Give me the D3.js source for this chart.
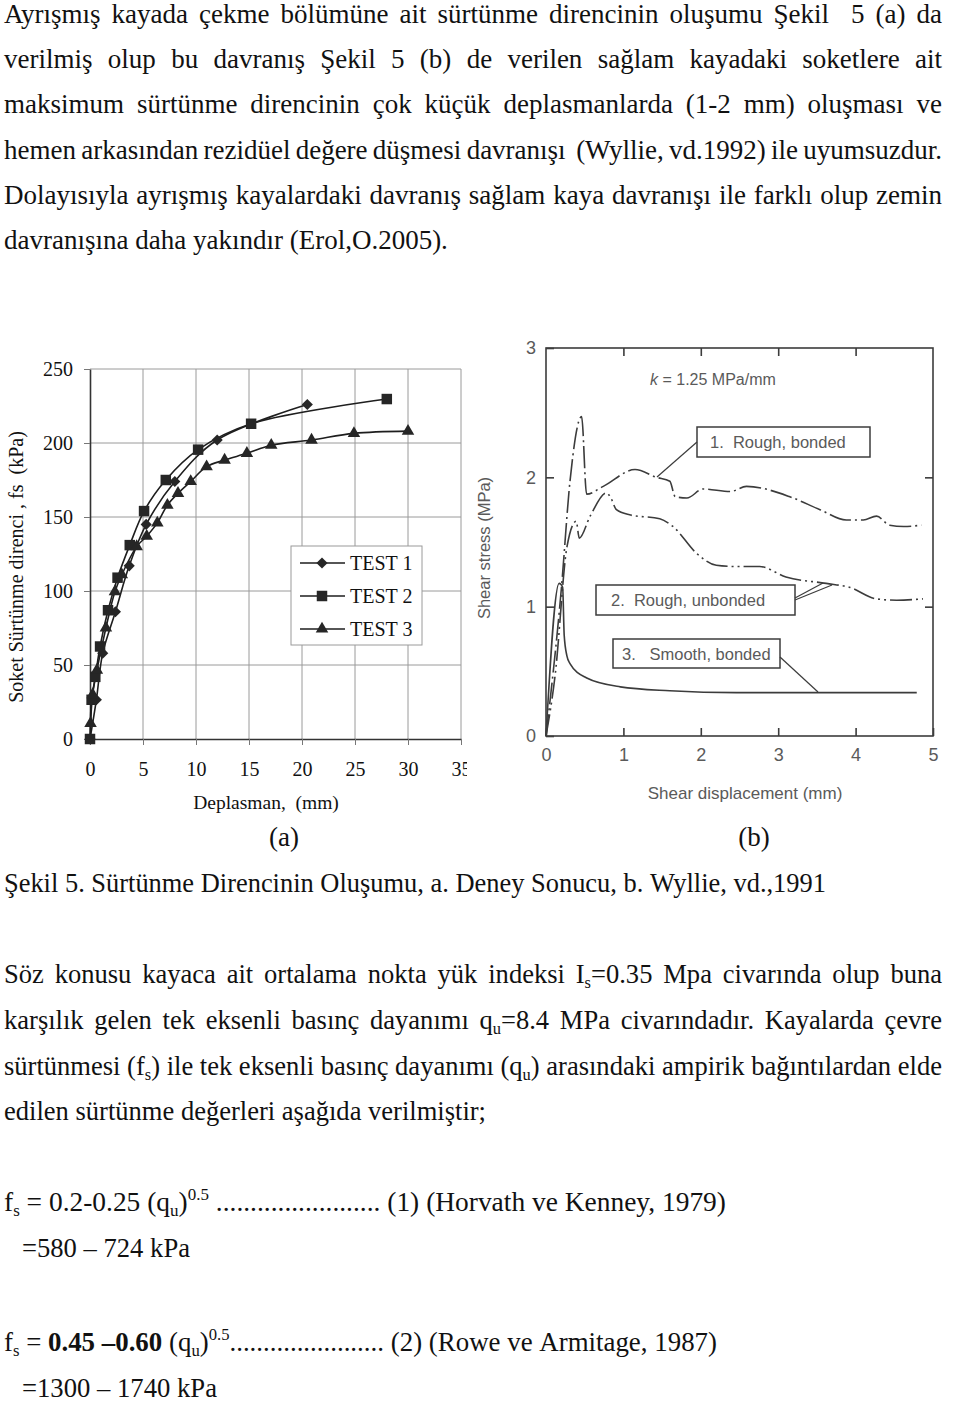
<!DOCTYPE html>
<html><head><meta charset="utf-8">
<script src="https://cdn.jsdelivr.net/npm/d3@7"></script>
<style>html,body{margin:0;padding:0;background:#fff;} svg{display:block;}</style>
</head><body>
<svg id="page" width="960" height="1402"></svg>
<script>
// ---------------- DATA ----------------
// Chart (a): soket sürtünme direnci vs deplasman
const xTicksA = [0, 5, 10, 15, 20, 25, 30, 35];
const yTicksA = [0, 50, 100, 150, 200, 250];
const seriesNames = ["TEST 1", "TEST 2", "TEST 3"];
const test1X = [0, 0.6, 1.2, 2.4, 3.7, 5.3, 8.0, 12.0, 20.5];
const test1Y = [0, 26.5, 58, 86, 117, 145, 174, 202, 226];
const test2X = [0, 0.15, 0.5, 0.95, 1.7, 2.6, 3.75, 5.1, 7.15, 10.2, 15.2, 28.0];
const test2Y = [0, 26.5, 42, 62.5, 87, 109, 131, 154, 175, 195.5, 213, 229.7];
const test3X = [0.05, 0.25, 0.65, 1.5, 2.35, 3.0, 4.4, 5.35, 6.35, 7.3, 8.3, 9.5, 11.0, 12.7, 14.8, 17.1, 20.9, 24.9, 30.0];
const test3Y = [10.5, 30, 46.5, 75, 99.5, 111, 130, 137, 146, 158, 166, 174, 184, 188.5, 193, 198.5, 202, 206.5, 208];

// Chart (b): Wyllie shear stress vs shear displacement
const xTicksB = [0, 1, 2, 3, 4, 5];
const yTicksB = [0, 1, 2, 3];
const curveNamesB = ["1.  Rough, bonded", "2.  Rough, unbonded", "3.   Smooth, bonded"];
const curve1X = [0, 0.2, 0.31, 0.46, 0.525, 0.74, 1.15, 1.43, 1.6, 1.67, 1.82, 2.03, 2.38, 2.59, 3.15, 3.54, 3.88, 4.1, 4.27, 4.44, 4.62, 4.85];
const curve1Y = [0, 1.15, 1.97, 2.47, 1.87, 1.93, 2.06, 2.0, 1.97, 1.85, 1.84, 1.91, 1.89, 1.93, 1.85, 1.75, 1.67, 1.67, 1.7, 1.63, 1.62, 1.63];
const curve2X = [0, 0.12, 0.27, 0.39, 0.43, 0.57, 0.78, 0.83, 0.91, 1.08, 1.47, 1.64, 1.95, 2.2, 2.46, 2.76, 3.1, 3.62, 3.92, 4.27, 4.53, 4.87];
const curve2Y = [0, 0.48, 1.46, 1.66, 1.53, 1.7, 1.88, 1.85, 1.75, 1.71, 1.68, 1.62, 1.41, 1.32, 1.31, 1.31, 1.23, 1.18, 1.15, 1.06, 1.05, 1.06];
const curve3X = [0, 0.17, 0.215, 0.235, 0.27, 0.31, 0.52, 0.96, 1.6, 2.46, 4.79];
const curve3Y = [0, 1.18, 1.15, 0.78, 0.62, 0.56, 0.45, 0.38, 0.35, 0.335, 0.335];

// Text
const para1 = [
  "Ayrışmış kayada çekme bölümüne ait sürtünme direncinin oluşumu Şekil  5 (a) da",
  "verilmiş olup bu davranış Şekil 5 (b) de verilen sağlam kayadaki soketlere ait",
  "maksimum sürtünme direncinin çok küçük deplasmanlarda (1-2 mm) oluşması ve",
  "hemen arkasından rezidüel değere düşmesi davranışı  (Wyllie, vd.1992) ile uyumsuzdur.",
  "Dolayısıyla ayrışmış kayalardaki davranış sağlam kaya davranışı ile farklı olup zemin",
  "davranışına daha yakındır (Erol,O.2005)."
];
const captionText = "Şekil 5. Sürtünme Direncinin Oluşumu, a. Deney Sonucu, b. Wyllie, vd.,1991";
const para2 = [
  "Söz konusu kayaca ait ortalama nokta yük indeksi I_{s}=0.35 Mpa civarında olup buna",
  "karşılık gelen tek eksenli basınç dayanımı q_{u}=8.4 MPa civarındadır. Kayalarda çevre",
  "sürtünmesi (f_{s}) ile tek eksenli basınç dayanımı (q_{u}) arasındaki ampirik bağıntılardan elde",
  "edilen sürtünme değerleri aşağıda verilmiştir;"
];
const formula1 = "f_{s} = 0.2-0.25 (q_{u})^{0.5} ........................ (1) (Horvath ve Kenney, 1979)";
const result1 = "=580 – 724 kPa";
const formula2 = "f_{s} = *{0.45} *{–0.60} (q_{u})^{0.5}....................... (2) (Rowe ve Armitage, 1987)";
const result2 = "=1300 – 1740 kPa";

// ---------------- RENDER ----------------
const SERIF = "'Liberation Serif','Times New Roman',serif";
const SANS = "'Liberation Sans',Arial,sans-serif";
const svg = d3.select("#page");

function appendRich(t, word, size) {
  const re = /(_\{[^}]*\}|\^\{[^}]*\}|\*\{[^}]*\})/;
  const parts = word.split(re).filter(p => p !== "");
  let shift = 0;
  parts.forEach(p => {
    let txt = p, fs = size, target = 0, bold = false;
    if (p.startsWith("_{")) { txt = p.slice(2, -1); fs = size * 0.62; target = size * 0.2; }
    else if (p.startsWith("^{")) { txt = p.slice(2, -1); fs = size * 0.62; target = -size * 0.42; }
    else if (p.startsWith("*{")) { txt = p.slice(2, -1); bold = true; }
    const ts = t.append("tspan").attr("font-size", fs).text(txt);
    if (target !== shift) { ts.attr("dy", target - shift); shift = target; }
    if (bold) ts.attr("font-weight", "bold");
  });
}

function renderLine(parent, str, o) {
  const g = parent.append("g");
  const words = str.split(" ");
  const nodes = words.map(w => {
    const t = g.append("text").attr("font-family", SERIF).attr("font-size", o.size).attr("fill", "#111");
    appendRich(t, w, o.size);
    return t;
  });
  const widths = nodes.map(n => n.node().getComputedTextLength());
  const sum = d3.sum(widths);
  const space = o.size * 0.25;
  const natural = sum + space * (words.length - 1);
  let sx = o.sx || 1, gap = space;
  if (o.fit) sx = (o.x1 - o.x0) / natural;
  else if (o.justify && words.length > 1) gap = ((o.x1 - o.x0) / sx - sum) / (words.length - 1);
  g.attr("transform", `translate(${o.x0},${o.y}) scale(${sx},1)`);
  let x = 0;
  nodes.forEach((n, i) => { n.attr("x", x); x += widths[i] + gap; });
  return sx;
}

// Paragraph 1
const FS = 27;
const p1Base = [23, 68.2, 113.4, 158.6, 203.8, 249];
para1.forEach((line, i) => {
  const last = i === para1.length - 1;
  renderLine(svg, line, { x0: 4, x1: 942, y: p1Base[i], size: FS, justify: !last, sx: 1 });
});

// Caption, paragraph 2, formulas
renderLine(svg, captionText, { x0: 4, x1: 826, y: 892, size: FS, fit: true });
const p2Base = [983, 1029, 1075, 1120];
const sx2 = renderLine(svg, para2[3], { x0: 4, x1: 486, y: p2Base[3], size: FS, fit: true });
para2.slice(0, 3).forEach((line, i) => {
  renderLine(svg, line, { x0: 4, x1: 942, y: p2Base[i], size: FS, justify: true, sx: sx2 });
});
renderLine(svg, formula1, { x0: 4, x1: 726, y: 1211, size: FS, fit: true });
renderLine(svg, result1, { x0: 22, x1: 190, y: 1257, size: FS, fit: true });
renderLine(svg, formula2, { x0: 4, x1: 717, y: 1351, size: FS, fit: true });
renderLine(svg, result2, { x0: 22, x1: 217, y: 1397, size: FS, fit: true });

// ---------------- CHART (a) ----------------
const clipA = svg.append("defs").append("clipPath").attr("id", "clipA");
clipA.append("rect").attr("x", 0).attr("y", 300).attr("width", 467).attr("height", 560);
const ga = svg.append("g").attr("clip-path", "url(#clipA)");

const xA = d3.scaleLinear().domain([0, 35]).range([90, 461]);
const yA = d3.scaleLinear().domain([0, 250]).range([739, 369]);

// grid
ga.append("g").selectAll("line").data(xTicksA.slice(1)).join("line")
  .attr("x1", d => xA(d)).attr("x2", d => xA(d)).attr("y1", yA(250)).attr("y2", yA(0))
  .attr("stroke", "#9a9a9a").attr("stroke-width", 1);
ga.append("g").selectAll("line").data(yTicksA.slice(1)).join("line")
  .attr("x1", xA(0)).attr("x2", xA(35)).attr("y1", d => yA(d)).attr("y2", d => yA(d))
  .attr("stroke", "#9a9a9a").attr("stroke-width", 1);

// axes
const axB = ga.append("g").attr("transform", `translate(0,${yA(0)})`)
  .call(d3.axisBottom(xA).tickValues(xTicksA).tickFormat(d3.format("d")).tickSize(6).tickSizeOuter(0).tickPadding(17));
const axL = ga.append("g").attr("transform", `translate(${xA(0)},0)`)
  .call(d3.axisLeft(yA).tickValues(yTicksA).tickFormat(d3.format("d")).tickSize(6).tickSizeOuter(0).tickPadding(11));
[axB, axL].forEach(a => {
  a.selectAll("path.domain").attr("stroke", "#333").attr("stroke-width", 1.6);
  a.selectAll(".tick line").attr("stroke", "#777");
  a.selectAll("text").attr("font-family", SERIF).attr("font-size", 20).attr("fill", "#111");
});

// titles
ga.append("text").attr("x", 266).attr("y", 809).attr("text-anchor", "middle")
  .attr("font-family", SERIF).attr("font-size", 19.5).attr("fill", "#111")
  .style("white-space", "pre").text("Deplasman,  (mm)");
ga.append("text").attr("transform", "translate(23,567) rotate(-90)").attr("text-anchor", "middle")
  .attr("font-family", SERIF).attr("font-size", 20).attr("fill", "#111")
  .style("white-space", "pre")
  .text("Soket Sürtünme direnci , fs  (kPa)");

// series
const seriesA = [
  { name: seriesNames[0], xs: test1X, ys: test1Y, sym: "diamond" },
  { name: seriesNames[1], xs: test2X, ys: test2Y, sym: "square" },
  { name: seriesNames[2], xs: test3X, ys: test3Y, sym: "triangle" }
];
const lineA = d3.line().x(d => xA(d[0])).y(d => yA(d[1])).curve(d3.curveCatmullRom.alpha(0.5));
function symPath(type) {
  if (type === "diamond") return d3.symbol().type(d3.symbolSquare).size(62)();
  if (type === "square") return d3.symbol().type(d3.symbolSquare).size(110)();
  return d3.symbol().type(d3.symbolTriangle).size(68)();
}
function symRot(type) { return type === "diamond" ? " rotate(45)" : ""; }
seriesA.forEach(s => {
  const pts = s.xs.map((x, i) => [x, s.ys[i]]);
  ga.append("path").attr("d", lineA(pts)).attr("fill", "none").attr("stroke", "#1e1e1e").attr("stroke-width", 1.6);
});
seriesA.forEach(s => {
  const pts = s.xs.map((x, i) => [x, s.ys[i]]);
  ga.append("g").selectAll("path").data(pts).join("path")
    .attr("d", symPath(s.sym))
    .attr("transform", d => `translate(${xA(d[0])},${yA(d[1])})${symRot(s.sym)}`)
    .attr("fill", "#262626");
});

// legend
const lg = ga.append("g");
lg.append("rect").attr("x", 291).attr("y", 546).attr("width", 131).attr("height", 99)
  .attr("fill", "#fff").attr("stroke", "#9a9a9a");
seriesA.forEach((s, i) => {
  const cy = 563 + i * 33;
  lg.append("line").attr("x1", 300).attr("x2", 345).attr("y1", cy).attr("y2", cy).attr("stroke", "#1e1e1e").attr("stroke-width", 1.6);
  lg.append("path").attr("d", symPath(s.sym)).attr("transform", `translate(322,${cy})${symRot(s.sym)}`).attr("fill", "#262626");
  lg.append("text").attr("x", 350).attr("y", cy + 7).attr("font-family", SERIF).attr("font-size", 20).attr("fill", "#111").text(s.name);
});

svg.append("text").attr("x", 284).attr("y", 846).attr("text-anchor", "middle")
  .attr("font-family", SERIF).attr("font-size", 27).attr("fill", "#111").text("(a)");
svg.append("text").attr("x", 754).attr("y", 846).attr("text-anchor", "middle")
  .attr("font-family", SERIF).attr("font-size", 27).attr("fill", "#111").text("(b)");

// ---------------- CHART (b) ----------------
const gb = svg.append("g");
const xB = d3.scaleLinear().domain([0, 5]).range([546, 933]);
const yB = d3.scaleLinear().domain([0, 3]).range([736, 348]);
const inkB = "#3c3c3c", txtB = "#5a5a5a";

gb.append("rect").attr("x", xB(0)).attr("y", yB(3)).attr("width", xB(5) - xB(0)).attr("height", yB(0) - yB(3))
  .attr("fill", "none").attr("stroke", inkB).attr("stroke-width", 1.6);
const bx = gb.append("g").attr("transform", `translate(0,${yB(0)})`)
  .call(d3.axisBottom(xB).tickValues(xTicksB).tickFormat(d3.format("d")).tickSizeInner(-8).tickSizeOuter(0).tickPadding(12));
const tx = gb.append("g").attr("transform", `translate(0,${yB(3)})`)
  .call(d3.axisTop(xB).tickValues(xTicksB.slice(1, -1)).tickSizeInner(-8).tickSizeOuter(0).tickFormat(""));
const ly = gb.append("g").attr("transform", `translate(${xB(0)},0)`)
  .call(d3.axisLeft(yB).tickValues(yTicksB).tickFormat(d3.format("d")).tickSizeInner(-8).tickSizeOuter(0).tickPadding(10));
const ry = gb.append("g").attr("transform", `translate(${xB(5)},0)`)
  .call(d3.axisRight(yB).tickValues(yTicksB.slice(1, -1)).tickSizeInner(-8).tickSizeOuter(0).tickFormat(""));
[bx, tx, ly, ry].forEach(a => {
  a.selectAll("path.domain").remove();
  a.selectAll(".tick line").attr("stroke", inkB).attr("stroke-width", 1.6);
  a.selectAll("text").attr("font-family", SANS).attr("font-size", 18).attr("fill", txtB);
});

gb.append("text").attr("x", 745).attr("y", 799).attr("text-anchor", "middle")
  .attr("font-family", SANS).attr("font-size", 17).attr("fill", txtB).text("Shear displacement (mm)");
gb.append("text").attr("transform", "translate(490,548) rotate(-90)").attr("text-anchor", "middle")
  .attr("font-family", SANS).attr("font-size", 16.5).attr("fill", txtB).text("Shear stress (MPa)");
const kt = gb.append("text").attr("x", 650).attr("y", 385).attr("font-family", SANS).attr("font-size", 16).attr("fill", txtB);
kt.append("tspan").attr("font-style", "italic").text("k");
kt.append("tspan").text(" = 1.25 MPa/mm");

const lineB = d3.line().x(d => xB(d[0])).y(d => yB(d[1])).curve(d3.curveMonotoneX);
const curvesB = [
  { xs: curve1X, ys: curve1Y, dash: "22,4,2,4" },
  { xs: curve2X, ys: curve2Y, dash: "22,4,2,4,2,4" },
  { xs: curve3X, ys: curve3Y, dash: null }
];
curvesB.forEach(c => {
  const pts = c.xs.map((x, i) => [x, c.ys[i]]);
  const p = gb.append("path").attr("d", lineB(pts)).attr("fill", "none").attr("stroke", inkB).attr("stroke-width", 1.6);
  if (c.dash) p.attr("stroke-dasharray", c.dash);
});

// label boxes
const boxesB = [
  { x: 697, y: 427, w: 173, h: 30, tx: 710 },
  { x: 596, y: 585, w: 199, h: 30, tx: 611 },
  { x: 613, y: 639, w: 167, h: 29, tx: 622 }
];
boxesB.forEach((b, i) => {
  gb.append("rect").attr("x", b.x).attr("y", b.y).attr("width", b.w).attr("height", b.h)
    .attr("fill", "#fff").attr("stroke", inkB).attr("stroke-width", 1.5);
  gb.append("text").attr("x", b.tx).attr("y", b.y + b.h / 2 + 6).attr("font-family", SANS)
    .attr("font-size", 16.5).attr("fill", txtB).style("white-space", "pre").text(curveNamesB[i]);
});
const leaders = [
  [[697, 442], [657, 477]],
  [[795, 598], [823, 583]],
  [[795, 600], [832, 585]],
  [[780, 657], [818, 692]]
];
leaders.forEach(l => {
  gb.append("line").attr("x1", l[0][0]).attr("y1", l[0][1]).attr("x2", l[1][0]).attr("y2", l[1][1])
    .attr("stroke", inkB).attr("stroke-width", 1.2);
});
</script>
</body></html>
